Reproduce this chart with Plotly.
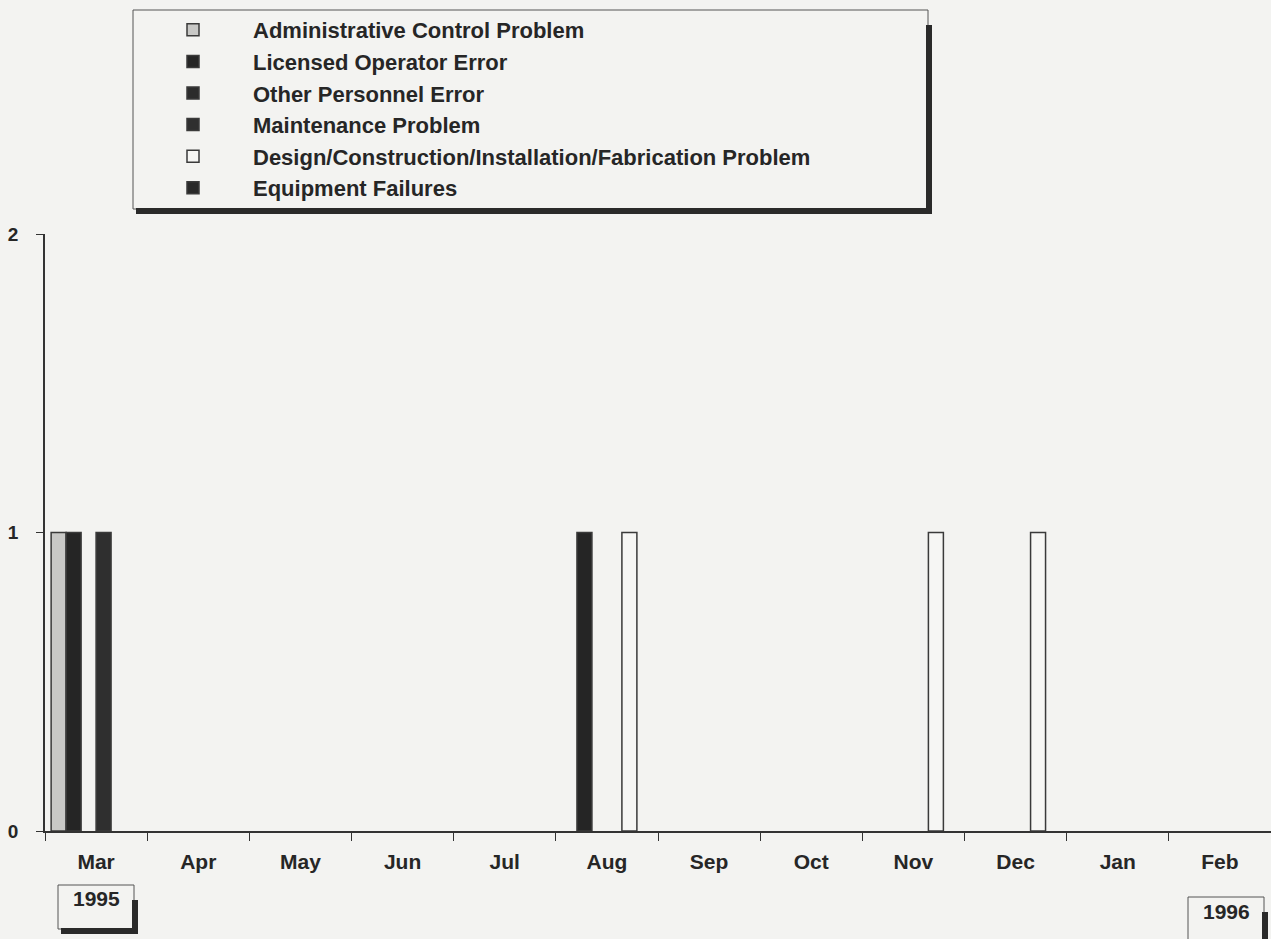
import plotly.graph_objects as go

months = ["Mar", "Apr", "May", "Jun", "Jul", "Aug", "Sep", "Oct", "Nov", "Dec", "Jan", "Feb"]

admin_control = [1, None, None, None, None, None, None, None, None, None, None, None]
licensed_operator = [1, None, None, None, None, 1, None, None, None, None, None, None]
other_personnel = [None] * 12
maintenance = [1, None, None, None, None, None, None, None, None, None, None, None]
design_construction = [None, None, None, None, None, 1, None, None, 1, 1, None, None]
equipment_failures = [None] * 12

series = [
    ("Administrative Control Problem", admin_control, "#c8c8c6"),
    ("Licensed Operator Error", licensed_operator, "#252525"),
    ("Other Personnel Error", other_personnel, "#2c2c2c"),
    ("Maintenance Problem", maintenance, "#2f2f2f"),
    ("Design/Construction/Installation/Fabrication Problem", design_construction, "#f6f6f4"),
    ("Equipment Failures", equipment_failures, "#292929"),
]

BG = "#f3f3f1"
INK = "#262626"
FONT = "Liberation Sans"

fig = go.Figure()
for name, vals, col in series:
    fig.add_trace(go.Bar(
        x=months, y=vals, name=name,
        marker=dict(color=col, line=dict(color="#3a3a3a", width=1.5)),
    ))

# plot area in pixels: left 45, right 1271, top 234, bottom 831
W, H = 1271, 939
L, R, T, B = 45, 1271, 234, 831
def px(x):
    return (x - L) / (R - L)
def py(y):
    return (B - y) / (B - T)

def box(x0, y0, x1, y1, shadow=True):
    out = [dict(type="rect", xref="paper", yref="paper", x0=px(x0), x1=px(x1), y0=py(y1), y1=py(y0),
                line=dict(color="#555", width=1), fillcolor="rgba(0,0,0,0)", layer="below")]
    if shadow:
        out += [
            dict(type="rect", xref="paper", yref="paper", x0=px(x0 + 3), x1=px(x1 + 4), y0=py(y1 + 5), y1=py(y1 - 1),
                 line=dict(width=0), fillcolor="#2a2a2a"),
            dict(type="rect", xref="paper", yref="paper", x0=px(x1 - 2), x1=px(x1 + 4), y0=py(y1 + 5), y1=py(y0 + 15),
                 line=dict(width=0), fillcolor="#2a2a2a"),
        ]
    return out

shapes = box(133, 10, 928, 209) + box(58, 885, 134, 929) + box(1188, 897, 1264, 945)

annotations = [
    dict(text="<b>1995</b>", x=px(96), xref="paper", y=py(899), yref="paper",
         xanchor="center", yanchor="middle", showarrow=False,
         font=dict(family=FONT, size=21, color=INK)),
    dict(text="<b>1996</b>", x=px(1226), xref="paper", y=py(911), yref="paper",
         xanchor="center", yanchor="middle", showarrow=False,
         font=dict(family=FONT, size=21, color=INK)),
]

fig.update_layout(
    width=W, height=H,
    margin=dict(l=L, r=W - R, t=T, b=H - B, autoexpand=False),
    paper_bgcolor=BG, plot_bgcolor=BG,
    barmode="group", bargap=0.12, bargroupgap=0,
    font=dict(family=FONT, color=INK),
    showlegend=True,
    legend=dict(
        xref="container", yref="container",
        x=133 / W, y=1 - 9 / H, xanchor="left", yanchor="top",
        bgcolor="rgba(0,0,0,0)", borderwidth=0,
        itemwidth=110, traceorder="normal",
        font=dict(family=FONT, size=22, color=INK, weight="bold"),
    ),
    shapes=shapes,
    annotations=annotations,
    xaxis=dict(
        type="category", range=[-0.5, 11.5],
        showline=True, linecolor="#333", linewidth=1.5,
        ticks="outside", tickson="boundaries", ticklen=8, tickcolor="#333",
        showgrid=False, zeroline=False, tickangle=0,
        tickfont=dict(family=FONT, size=21, color=INK, weight="bold"),
        ticklabelstandoff=11,
    ),
    yaxis=dict(
        range=[0, 2], tickvals=[0, 1, 2],
        showline=True, linecolor="#333", linewidth=1.5,
        ticks="outside", ticklen=7, tickcolor="#333",
        showgrid=False, zeroline=False,
        tickfont=dict(family=FONT, size=19, color=INK, weight="bold"),
        ticklabelstandoff=14,
    ),
)

fig.write_html("out.html", config={"displayModeBar": False},
               post_script="document.body.style.margin='0';")
